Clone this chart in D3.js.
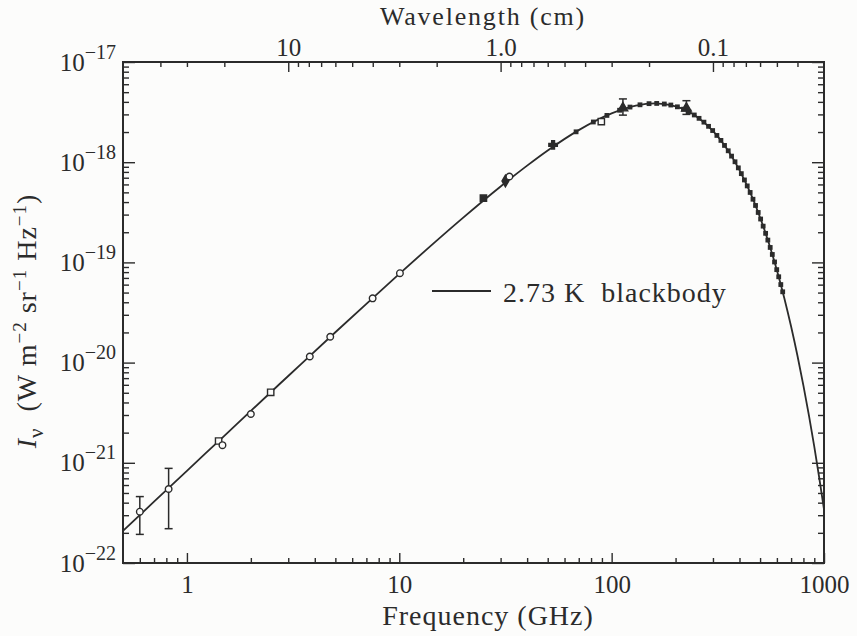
<!DOCTYPE html>
<html>
<head>
<meta charset="utf-8">
<script src="https://cdn.jsdelivr.net/npm/d3@7"></script>
<style>
  body { margin: 0; background: #fcfcfb; }
  text { font-family: "Liberation Serif", "DejaVu Serif", serif; fill: #2b2b2b; }
</style>
</head>
<body>
<div id="chart"></div>
<script>
// blackbody curve (GHz, W m^-2 sr^-1 Hz^-1)
const curveFreq = [0.5, 0.7, 1, 1.5, 2, 3, 5, 7, 10, 15, 20, 30, 40, 50, 70, 100, 130, 160, 200, 250, 300, 350, 400, 450, 500, 550, 600, 650, 700, 750, 800, 850, 900, 950, 1000];
const curveIntensity = [2.09e-22, 4.09e-22, 8.32e-22, 1.86e-21, 3.30e-21, 7.35e-21, 2.01e-20, 3.86e-20, 7.67e-20, 1.65e-19, 2.80e-19, 5.73e-19, 9.25e-19, 1.31e-18, 2.09e-18, 3.07e-18, 3.67e-18, 3.86e-18, 3.61e-18, 2.88e-18, 2.05e-18, 1.35e-18, 8.35e-19, 4.93e-19, 2.81e-19, 1.55e-19, 8.37e-20, 4.42e-20, 2.29e-20, 1.17e-20, 5.89e-21, 2.94e-21, 1.45e-21, 7.05e-22, 3.42e-22];

// dense spectrum points around the peak
const firasFreq = [68, 82, 95, 109, 122, 136, 150, 163, 177, 190, 204, 218, 231, 245, 258, 272, 286, 299, 313, 327, 340, 354, 367, 381, 395, 408, 422, 435, 449, 463, 476, 490, 503, 517, 531, 544, 558, 571, 585, 599, 612, 626, 639];
const firasIntensity = [2.01e-18, 2.52e-18, 2.93e-18, 3.30e-18, 3.55e-18, 3.74e-18, 3.84e-18, 3.86e-18, 3.81e-18, 3.72e-18, 3.57e-18, 3.38e-18, 3.19e-18, 2.96e-18, 2.74e-18, 2.51e-18, 2.28e-18, 2.07e-18, 1.85e-18, 1.65e-18, 1.47e-18, 1.30e-18, 1.15e-18, 1.01e-18, 8.78e-19, 7.69e-19, 6.65e-19, 5.80e-19, 4.99e-19, 4.27e-19, 3.70e-19, 3.15e-19, 2.71e-19, 2.30e-19, 1.95e-19, 1.67e-19, 1.41e-19, 1.20e-19, 1.01e-19, 8.47e-20, 7.19e-20, 6.01e-20, 5.09e-20];

// other measurements
const pointFreq = [0.6, 0.82, 1.41, 1.47, 2.0, 2.48, 3.79, 4.73, 7.49, 10.07, 24.9, 31.6, 33, 53, 89.4, 113, 225];
const pointIntensity = [3.25e-22, 5.48e-22, 1.65e-21, 1.5e-21, 3.07e-21, 5.05e-21, 1.15e-20, 1.81e-20, 4.38e-20, 7.8e-20, 4.37e-19, 6.5e-19, 7.2e-19, 1.49e-18, 2.54e-18, 3.47e-18, 3.45e-18];
const pointSymbol = ["circle", "circle", "square", "circle", "circle", "square", "circle", "circle", "circle", "circle", "squareFilled", "diamondFilled", "circle", "crossFilled", "square", "triangle", "triangle"];

const errFreq = [0.6, 0.82, 113, 225];
const errLow = [1.93e-22, 2.2e-22, 2.95e-18, 3.0e-18];
const errHigh = [4.6e-22, 8.8e-22, 4.28e-18, 4.11e-18];

const freqMajor = [1, 10, 100, 1000];
const freqMinor = [0.6, 0.7, 0.8, 0.9, 2, 3, 4, 5, 6, 7, 8, 9, 20, 30, 40, 50, 60, 70, 80, 90, 200, 300, 400, 500, 600, 700, 800, 900];
const waveMajor = [10, 1, 0.1];
const waveMajorLabels = ["10", "1.0", "0.1"];
const waveMinor = [40, 30, 20, 9, 8, 7, 6, 5, 4, 3, 2, 0.9, 0.8, 0.7, 0.6, 0.5, 0.4, 0.3, 0.2, 0.09, 0.08, 0.07, 0.06, 0.05, 0.04];
const intensityMajor = [1e-22, 1e-21, 1e-20, 1e-19, 1e-18, 1e-17];
const intensityMinor = [];
intensityMajor.slice(0, -1).forEach(p => [2, 3, 4, 5, 6, 7, 8, 9].forEach(m => intensityMinor.push(+(m * p).toPrecision(2))));

const W = 857, H = 636;
const plotLeft = 123, plotRight = 824, plotTop = 62, plotBottom = 563;
const ink = "#2b2b2b";

const svg = d3.select("#chart").append("svg")
    .attr("width", W)
    .attr("height", H);

svg.append("rect").attr("width", W).attr("height", H).attr("fill", "#fcfcfb");

const x = d3.scaleLog().domain([0.5, 1000]).range([plotLeft, plotRight]);
const y = d3.scaleLog().domain([1e-22, 1e-17]).range([plotBottom, plotTop]);
// wavelength in cm = 30 / frequency in GHz
const xw = d3.scaleLog().domain([30 / 0.5, 30 / 1000]).range([plotLeft, plotRight]);

function styleAxis(g) {
    g.select(".domain").remove();
    g.selectAll(".tick line").attr("stroke", ink).attr("stroke-width", 1.4);
}

// bottom axis
svg.append("g")
    .attr("transform", `translate(0,${plotBottom})`)
    .call(d3.axisBottom(x).tickValues(freqMajor).tickSize(-10).tickPadding(12).tickFormat(d3.format("d")))
    .call(styleAxis)
    .selectAll("text").style("font-size", "25px").attr("fill", ink);
svg.append("g")
    .attr("transform", `translate(0,${plotBottom})`)
    .call(d3.axisBottom(x).tickValues(freqMinor).tickSize(-5).tickFormat(""))
    .call(styleAxis);

// top axis (wavelength)
svg.append("g")
    .attr("transform", `translate(0,${plotTop})`)
    .call(d3.axisTop(xw).tickValues(waveMajor).tickSize(-10).tickPadding(6).tickFormat((d, i) => waveMajorLabels[i]))
    .call(styleAxis)
    .selectAll("text").style("font-size", "25px").attr("fill", ink);
svg.append("g")
    .attr("transform", `translate(0,${plotTop})`)
    .call(d3.axisTop(xw).tickValues(waveMinor).tickSize(-5).tickFormat(""))
    .call(styleAxis);

// left axis
svg.append("g")
    .attr("transform", `translate(${plotLeft},0)`)
    .call(d3.axisLeft(y).tickValues(intensityMajor).tickSize(-12).tickPadding(7).tickFormat(""))
    .call(styleAxis)
    .selectAll(".tick text")
    .style("font-size", "25px")
    .attr("fill", ink)
    .each(function(d) {
        const t = d3.select(this);
        t.append("tspan").text("10");
        t.append("tspan").attr("dy", "-12px").style("font-size", "20px").text("\u2212" + Math.round(-Math.log10(d)));
    });
svg.append("g")
    .attr("transform", `translate(${plotLeft},0)`)
    .call(d3.axisLeft(y).tickValues(intensityMinor).tickSize(-6).tickFormat(""))
    .call(styleAxis);

// right axis
svg.append("g")
    .attr("transform", `translate(${plotRight},0)`)
    .call(d3.axisRight(y).tickValues(intensityMajor).tickSize(-12).tickFormat(""))
    .call(styleAxis);
svg.append("g")
    .attr("transform", `translate(${plotRight},0)`)
    .call(d3.axisRight(y).tickValues(intensityMinor).tickSize(-6).tickFormat(""))
    .call(styleAxis);

// frame
svg.append("rect")
    .attr("x", plotLeft).attr("y", plotTop)
    .attr("width", plotRight - plotLeft).attr("height", plotBottom - plotTop)
    .attr("fill", "none").attr("stroke", ink).attr("stroke-width", 2);

// blackbody curve
const curve = curveFreq.map((f, i) => [f, curveIntensity[i]]);
const line = d3.line()
    .x(d => x(d[0]))
    .y(d => y(d[1]))
    .curve(d3.curveMonotoneX);

svg.append("path")
    .datum(curve)
    .attr("fill", "none")
    .attr("stroke", ink)
    .attr("stroke-width", 1.8)
    .attr("d", line);

// error bars
errFreq.forEach((f, i) => {
    const g = svg.append("g").attr("stroke", ink).attr("stroke-width", 1.5);
    g.append("line").attr("x1", x(f)).attr("x2", x(f)).attr("y1", y(errLow[i])).attr("y2", y(errHigh[i]));
    [errLow[i], errHigh[i]].forEach(v => {
        g.append("line").attr("x1", x(f) - 4).attr("x2", x(f) + 4).attr("y1", y(v)).attr("y2", y(v));
    });
});

// measured points
const symbolType = {
    circle: d3.symbolCircle, square: d3.symbolSquare, squareFilled: d3.symbolSquare,
    diamondFilled: d3.symbolDiamond, crossFilled: d3.symbolCross, triangle: d3.symbolTriangle
};
svg.selectAll(".pt")
    .data(pointFreq.map((f, i) => ({ f, v: pointIntensity[i], s: pointSymbol[i] })))
    .enter()
    .append("path")
    .attr("transform", d => `translate(${x(d.f)},${y(d.v)})`)
    .attr("d", d => d3.symbol().type(symbolType[d.s]).size(d.s === "circle" ? 34 : 40)())
    .attr("fill", d => (d.s.endsWith("Filled") || d.s === "triangle") ? ink : "#fcfcfb")
    .attr("stroke", ink)
    .attr("stroke-width", 1.4);

svg.selectAll(".firas")
    .data(firasFreq.map((f, i) => [f, firasIntensity[i]]))
    .enter()
    .append("rect")
    .attr("x", d => x(d[0]) - 2.4)
    .attr("y", d => y(d[1]) - 2.4)
    .attr("width", 4.8)
    .attr("height", 4.8)
    .attr("fill", ink);

// legend
svg.append("line")
    .attr("x1", 432).attr("x2", 491)
    .attr("y1", 291).attr("y2", 291)
    .attr("stroke", ink).attr("stroke-width", 1.8);
svg.append("text")
    .attr("x", 503).attr("y", 302)
    .style("font-size", "28px")
    .style("letter-spacing", "1px")
    .style("white-space", "pre")
    .text("2.73 K  blackbody");

// X-axis labels
svg.append("text")
    .attr("x", 488).attr("y", 625)
    .attr("text-anchor", "middle")
    .style("font-size", "28px")
    .style("letter-spacing", "1px")
    .text("Frequency (GHz)");

svg.append("text")
    .attr("x", 483).attr("y", 25)
    .attr("text-anchor", "middle")
    .style("font-size", "26px")
    .style("letter-spacing", "1.8px")
    .text("Wavelength (cm)");

// Y-axis label
const yl = svg.append("text")
    .attr("transform", "translate(36,321) rotate(-90)")
    .attr("text-anchor", "middle")
    .style("font-size", "28px")
    .style("letter-spacing", "1px")
    .style("white-space", "pre");
yl.append("tspan").style("font-style", "italic").text("I");
yl.append("tspan").attr("dy", "7px").style("font-size", "21px").text("\u03bd");
yl.append("tspan").attr("dy", "-7px").text("  (W m");
yl.append("tspan").attr("dy", "-10px").style("font-size", "19px").text("\u22122");
yl.append("tspan").attr("dy", "10px").text(" sr");
yl.append("tspan").attr("dy", "-10px").style("font-size", "19px").text("\u22121");
yl.append("tspan").attr("dy", "10px").text(" Hz");
yl.append("tspan").attr("dy", "-10px").style("font-size", "19px").text("\u22121");
yl.append("tspan").attr("dy", "10px").text(")");
</script>
</body>
</html>
